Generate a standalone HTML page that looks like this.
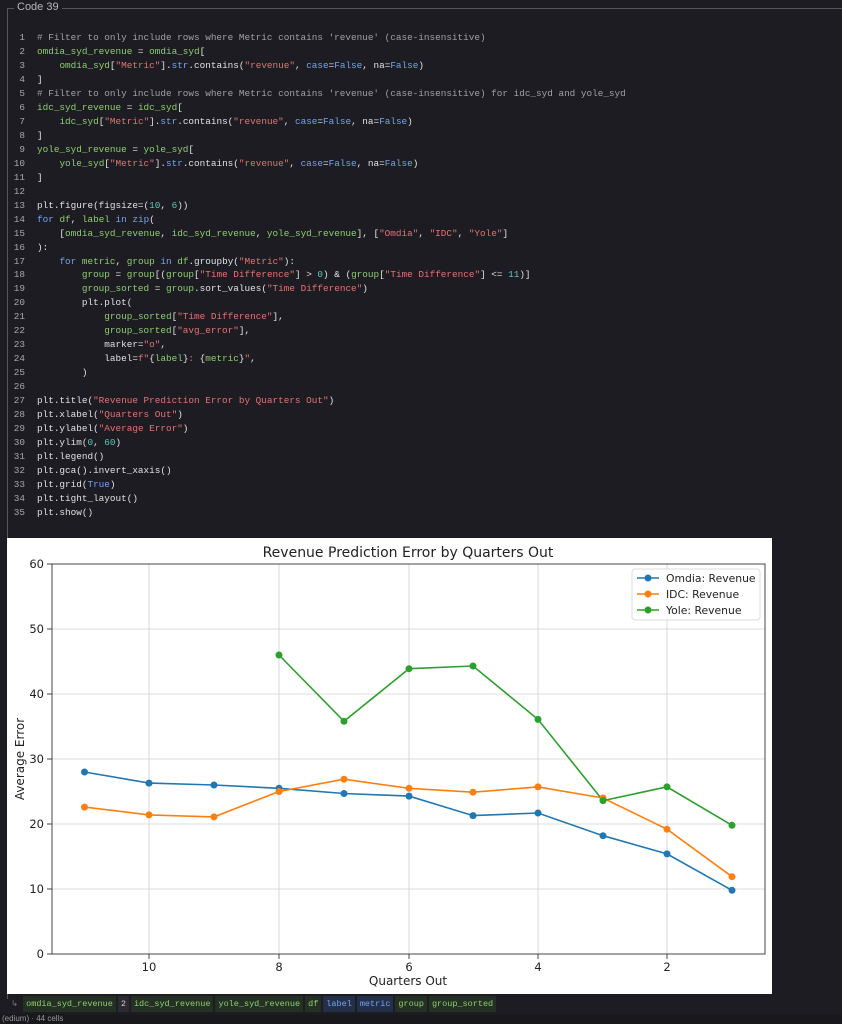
<!DOCTYPE html>
<html><head><meta charset="utf-8"><style>
body{margin:0;width:842px;height:1024px;background:#1c1c22;overflow:hidden;font-family:"Liberation Mono",monospace;position:relative}
.frame{position:absolute;left:7px;top:8px;width:900px;height:990px;border-left:1px solid #55555c;border-top:1px solid #55555c}
.cap{position:absolute;left:14px;top:1px;background:#1c1c22;color:#b8b8bc;font:11px "Liberation Sans",sans-serif;padding:0 3px}
.code{position:absolute;left:0;top:31px;font-size:9.35px;line-height:13.97px;color:#e2e2e2;white-space:pre}
.ln{display:inline-block;width:25px;text-align:right;color:#a8a8ae;margin-right:12px}
.g{color:#8fce70}.s{color:#e57373}.b{color:#73a4f2}.n{color:#5ec8b8}.c{color:#a0a0a6}
.chips{position:absolute;left:8px;top:996px;font-size:8.5px;color:#8fce70}
.chips span{display:inline-block;background:#253025;padding:3px 3px;margin-right:2px}
.chips span.bl{background:#23304a;color:#7aa2f0}
.chips span.k{background:#2a2a30;color:#ccc}
</style></head><body>
<div class="frame"></div><div class="cap">Code 39</div>
<div class="code"><span class="ln">1</span><span class="c"># Filter to only include rows where Metric contains 'revenue' (case-insensitive)</span>
<span class="ln">2</span><span class="g">omdia_syd_revenue</span> = <span class="g">omdia_syd</span>[
<span class="ln">3</span>    <span class="g">omdia_syd</span>[<span class="s">"Metric"</span>].<span class="b">str</span>.contains(<span class="s">"revenue"</span>, <span class="b">case</span>=<span class="b">False</span>, na=<span class="b">False</span>)
<span class="ln">4</span>]
<span class="ln">5</span><span class="c"># Filter to only include rows where Metric contains 'revenue' (case-insensitive) for idc_syd and yole_syd</span>
<span class="ln">6</span><span class="g">idc_syd_revenue</span> = <span class="g">idc_syd</span>[
<span class="ln">7</span>    <span class="g">idc_syd</span>[<span class="s">"Metric"</span>].<span class="b">str</span>.contains(<span class="s">"revenue"</span>, <span class="b">case</span>=<span class="b">False</span>, na=<span class="b">False</span>)
<span class="ln">8</span>]
<span class="ln">9</span><span class="g">yole_syd_revenue</span> = <span class="g">yole_syd</span>[
<span class="ln">10</span>    <span class="g">yole_syd</span>[<span class="s">"Metric"</span>].<span class="b">str</span>.contains(<span class="s">"revenue"</span>, <span class="b">case</span>=<span class="b">False</span>, na=<span class="b">False</span>)
<span class="ln">11</span>]
<span class="ln">12</span>
<span class="ln">13</span>plt.figure(figsize=(<span class="n">10</span>, <span class="n">6</span>))
<span class="ln">14</span><span class="b">for</span> <span class="g">df</span>, <span class="g">label</span> <span class="b">in</span> <span class="b">zip</span>(
<span class="ln">15</span>    [<span class="g">omdia_syd_revenue</span>, <span class="g">idc_syd_revenue</span>, <span class="g">yole_syd_revenue</span>], [<span class="s">"Omdia"</span>, <span class="s">"IDC"</span>, <span class="s">"Yole"</span>]
<span class="ln">16</span>):
<span class="ln">17</span>    <span class="b">for</span> <span class="g">metric</span>, <span class="g">group</span> <span class="b">in</span> <span class="g">df</span>.groupby(<span class="s">"Metric"</span>):
<span class="ln">18</span>        <span class="g">group</span> = <span class="g">group</span>[(<span class="g">group</span>[<span class="s">"Time Difference"</span>] &gt; <span class="n">0</span>) &amp; (<span class="g">group</span>[<span class="s">"Time Difference"</span>] &lt;= <span class="n">11</span>)]
<span class="ln">19</span>        <span class="g">group_sorted</span> = <span class="g">group</span>.sort_values(<span class="s">"Time Difference"</span>)
<span class="ln">20</span>        plt.plot(
<span class="ln">21</span>            <span class="g">group_sorted</span>[<span class="s">"Time Difference"</span>],
<span class="ln">22</span>            <span class="g">group_sorted</span>[<span class="s">"avg_error"</span>],
<span class="ln">23</span>            marker=<span class="s">"o"</span>,
<span class="ln">24</span>            label=<span class="s">f"</span>{<span class="g">label</span>}<span class="s">: </span>{<span class="g">metric</span>}<span class="s">"</span>,
<span class="ln">25</span>        )
<span class="ln">26</span>
<span class="ln">27</span>plt.title(<span class="s">"Revenue Prediction Error by Quarters Out"</span>)
<span class="ln">28</span>plt.xlabel(<span class="s">"Quarters Out"</span>)
<span class="ln">29</span>plt.ylabel(<span class="s">"Average Error"</span>)
<span class="ln">30</span>plt.ylim(<span class="n">0</span>, <span class="n">60</span>)
<span class="ln">31</span>plt.legend()
<span class="ln">32</span>plt.gca().invert_xaxis()
<span class="ln">33</span>plt.grid(<span class="b">True</span>)
<span class="ln">34</span>plt.tight_layout()
<span class="ln">35</span>plt.show()</div>

<svg style="position:absolute;left:7px;top:538px" width="765" height="456" viewBox="7 538 765 456" font-family="'DejaVu Sans',sans-serif">
<rect x="7" y="538" width="765" height="456" fill="#fff"/>
<g stroke="#d0d0d0" stroke-width="0.8">
<line x1="149" y1="564" x2="149" y2="954"/><line x1="279" y1="564" x2="279" y2="954"/><line x1="409" y1="564" x2="409" y2="954"/><line x1="538" y1="564" x2="538" y2="954"/><line x1="667" y1="564" x2="667" y2="954"/>
<line x1="52" y1="889" x2="765" y2="889"/><line x1="52" y1="824" x2="765" y2="824"/><line x1="52" y1="759" x2="765" y2="759"/><line x1="52" y1="694" x2="765" y2="694"/><line x1="52" y1="629" x2="765" y2="629"/>
</g>
<rect x="52" y="564" width="713" height="390" fill="none" stroke="#333" stroke-width="0.9"/>
<g stroke="#333" stroke-width="0.9">
<line x1="47" y1="954" x2="52" y2="954"/><line x1="47" y1="889" x2="52" y2="889"/><line x1="47" y1="824" x2="52" y2="824"/><line x1="47" y1="759" x2="52" y2="759"/><line x1="47" y1="694" x2="52" y2="694"/><line x1="47" y1="629" x2="52" y2="629"/><line x1="47" y1="564" x2="52" y2="564"/>
<line x1="149" y1="954" x2="149" y2="959"/><line x1="279" y1="954" x2="279" y2="959"/><line x1="409" y1="954" x2="409" y2="959"/><line x1="538" y1="954" x2="538" y2="959"/><line x1="667" y1="954" x2="667" y2="959"/>
</g>
<g font-size="11.5" fill="#222" text-anchor="end">
<text x="44" y="958">0</text><text x="44" y="893">10</text><text x="44" y="828">20</text><text x="44" y="763">30</text><text x="44" y="698">40</text><text x="44" y="633">50</text><text x="44" y="568">60</text>
</g>
<g font-size="11.5" fill="#222" text-anchor="middle">
<text x="149" y="971">10</text><text x="279" y="971">8</text><text x="409" y="971">6</text><text x="538" y="971">4</text><text x="667" y="971">2</text>
<text x="408" y="985" font-size="12">Quarters Out</text>
<text x="408" y="557" font-size="14">Revenue Prediction Error by Quarters Out</text>
<text transform="translate(24,759) rotate(-90)" font-size="12">Average Error</text>
</g>
<g fill="none" stroke-width="1.6">
<polyline stroke="#1f77b4" points="84.5,772 149,783.1 214,785 279,788.3 344,793.5 409,796.1 473,815.6 538,813 603,835.7 667,853.9 732,890.3"/>
<polyline stroke="#ff7f0e" points="84.5,807.1 149,814.9 214,816.9 279,791.5 344,779.2 409,788.3 473,792.2 538,786.9 603,798 667,829.2 732,876.7"/>
<polyline stroke="#2ca02c" points="279,655 344,721.3 409,668.7 473,666 538,719.4 603,800.6 667,786.9 732,825.3"/>
</g>
<g fill="#1f77b4"><circle cx="84.5" cy="772" r="3.5"/><circle cx="149" cy="783.1" r="3.5"/><circle cx="214" cy="785" r="3.5"/><circle cx="279" cy="788.3" r="3.5"/><circle cx="344" cy="793.5" r="3.5"/><circle cx="409" cy="796.1" r="3.5"/><circle cx="473" cy="815.6" r="3.5"/><circle cx="538" cy="813" r="3.5"/><circle cx="603" cy="835.7" r="3.5"/><circle cx="667" cy="853.9" r="3.5"/><circle cx="732" cy="890.3" r="3.5"/></g>
<g fill="#ff7f0e"><circle cx="84.5" cy="807.1" r="3.5"/><circle cx="149" cy="814.9" r="3.5"/><circle cx="214" cy="816.9" r="3.5"/><circle cx="279" cy="791.5" r="3.5"/><circle cx="344" cy="779.2" r="3.5"/><circle cx="409" cy="788.3" r="3.5"/><circle cx="473" cy="792.2" r="3.5"/><circle cx="538" cy="786.9" r="3.5"/><circle cx="603" cy="798" r="3.5"/><circle cx="667" cy="829.2" r="3.5"/><circle cx="732" cy="876.7" r="3.5"/></g>
<g fill="#2ca02c"><circle cx="279" cy="655" r="3.5"/><circle cx="344" cy="721.3" r="3.5"/><circle cx="409" cy="668.7" r="3.5"/><circle cx="473" cy="666" r="3.5"/><circle cx="538" cy="719.4" r="3.5"/><circle cx="603" cy="800.6" r="3.5"/><circle cx="667" cy="786.9" r="3.5"/><circle cx="732" cy="825.3" r="3.5"/></g>
<rect x="632" y="569" width="128" height="51" rx="3" fill="#fff" fill-opacity="0.85" stroke="#ddd"/>
<g stroke-width="1.6"><line x1="637" y1="578" x2="659" y2="578" stroke="#1f77b4"/><line x1="637" y1="594" x2="659" y2="594" stroke="#ff7f0e"/><line x1="637" y1="610" x2="659" y2="610" stroke="#2ca02c"/></g>
<circle cx="648" cy="578" r="3.5" fill="#1f77b4"/><circle cx="648" cy="594" r="3.5" fill="#ff7f0e"/><circle cx="648" cy="610" r="3.5" fill="#2ca02c"/>
<g font-size="10.8" fill="#222"><text x="666" y="582">Omdia: Revenue</text><text x="666" y="598">IDC: Revenue</text><text x="666" y="614">Yole: Revenue</text></g>
</svg>

<div class="chips"><span style="background:none;color:#777">↳</span><span>omdia_syd_revenue</span><span class="k">2</span><span>idc_syd_revenue</span><span>yole_syd_revenue</span><span>df</span><span class="bl">label</span><span class="bl">metric</span><span>group</span><span>group_sorted</span></div>
<div style="position:absolute;left:0;top:1014px;width:842px;height:10px;background:#18181d;color:#999;font:8px 'Liberation Sans',sans-serif;padding-left:2px">(edium) · 44 cells</div>
</body></html>
